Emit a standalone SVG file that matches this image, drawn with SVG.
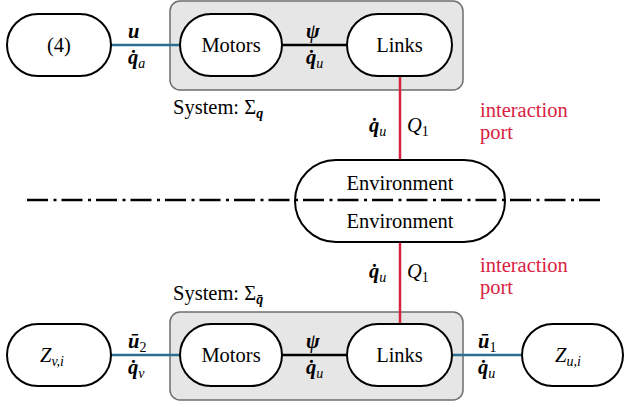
<svg xmlns="http://www.w3.org/2000/svg" width="624" height="407" viewBox="0 0 624 407">
<style>
.node{fill:#fff;stroke:#000;stroke-width:2}
.sys{fill:#e6e6e6;stroke:#6e6e6e;stroke-width:1.5}
.t{font-family:'Liberation Serif','Times New Roman',Times,'DejaVu Serif',serif;font-size:20.5px;fill:#000}
.c{text-anchor:middle}
.v{font-weight:bold;font-style:italic}
.i{font-style:italic;font-weight:normal}
.s{font-size:14px}
.n{font-style:normal;font-weight:normal}
.red{stroke:#d8213f;stroke-width:2.5;fill:none}
.blue{stroke:#2b6f90;stroke-width:2.5;fill:none}
.blk{stroke:#000;stroke-width:2.5;fill:none}
.dd{stroke:#000;stroke-width:2.4;fill:none;stroke-dasharray:21 5.5 3 5}
.rt{fill:#d8213f}
</style>
<g id="system-top"><rect class="sys" x="170" y="1" width="293" height="89" rx="10"/></g>
<g id="system-bottom"><rect class="sys" x="170" y="312" width="293" height="88" rx="10"/></g>
<g id="connectors">
<line class="blue" x1="111" y1="45" x2="180" y2="45"/>
<line class="blk" x1="282" y1="45" x2="347" y2="45"/>
<line class="red" x1="400" y1="76" x2="400" y2="160"/>
<line class="red" x1="400" y1="242" x2="400" y2="324"/>
<line class="blue" x1="111" y1="355" x2="180" y2="355"/>
<line class="blk" x1="282" y1="355" x2="347" y2="355"/>
<line class="blue" x1="452" y1="355" x2="522" y2="355"/>
</g>
<g id="n4"><rect class="node" x="7" y="14" width="104" height="62" rx="31"/><text class="t c" x="59" y="52">(4)</text></g>
<g id="motors-top"><rect class="node" x="180" y="14" width="102" height="62" rx="31"/><text class="t c" x="231" y="52">Motors</text></g>
<g id="links-top"><rect class="node" x="347" y="14" width="105" height="62" rx="31"/><text class="t c" x="399.5" y="52">Links</text></g>
<g id="environment"><rect class="node" x="295" y="160" width="210" height="82" rx="41"/><text class="t c" x="400" y="190">Environment</text><text class="t c" x="400" y="228">Environment</text></g>
<g id="zv"><rect class="node" x="7" y="324" width="104" height="62" rx="31"/><text class="t i" x="40" y="362">Z<tspan class="s" dy="4">v,i</tspan></text></g>
<g id="motors-bottom"><rect class="node" x="180" y="324" width="102" height="62" rx="31"/><text class="t c" x="231" y="362">Motors</text></g>
<g id="links-bottom"><rect class="node" x="347" y="324" width="105" height="62" rx="31"/><text class="t c" x="399.5" y="362">Links</text></g>
<g id="zu"><rect class="node" x="522" y="324" width="101" height="62" rx="31"/><text class="t i" x="555" y="362">Z<tspan class="s" dy="4">u,i</tspan></text></g>
<g id="dashdot"><line class="dd" x1="27" y1="200" x2="603" y2="200"/></g>
<g id="labels">
<text class="t v" x="128" y="38">u</text>
<text class="t v" x="128" y="64">q̇<tspan class="s i" dy="4">a</tspan></text>
<text class="t v" x="306" y="38">ψ</text>
<text class="t v" x="306" y="64">q̇<tspan class="s i" dy="4">u</tspan></text>
<text class="t" x="173" y="114">System: Σ<tspan class="s v" dy="4">q</tspan></text>
<text class="t v" x="369" y="132">q̇<tspan class="s i" dy="4">u</tspan></text>
<text class="t i" x="407" y="132">Q<tspan class="s n" dy="4">1</tspan></text>
<text class="t rt" x="480" y="117">interaction</text>
<text class="t rt" x="480" y="139">port</text>
<text class="t v" x="369" y="278">q̇<tspan class="s i" dy="4">u</tspan></text>
<text class="t i" x="407" y="278">Q<tspan class="s n" dy="4">1</tspan></text>
<text class="t rt" x="480" y="272">interaction</text>
<text class="t rt" x="480" y="294">port</text>
<text class="t" x="173" y="300">System: Σ<tspan class="s v" dy="4">q̄</tspan></text>
<text class="t v" x="128" y="348">ū<tspan class="s n" dy="4">2</tspan></text>
<text class="t v" x="128" y="374">q̇<tspan class="s i" dy="4">v</tspan></text>
<text class="t v" x="306" y="348">ψ</text>
<text class="t v" x="306" y="374">q̇<tspan class="s i" dy="4">u</tspan></text>
<text class="t v" x="478" y="348">ū<tspan class="s n" dy="4">1</tspan></text>
<text class="t v" x="478" y="374">q̇<tspan class="s i" dy="4">u</tspan></text>
</g>
</svg>
